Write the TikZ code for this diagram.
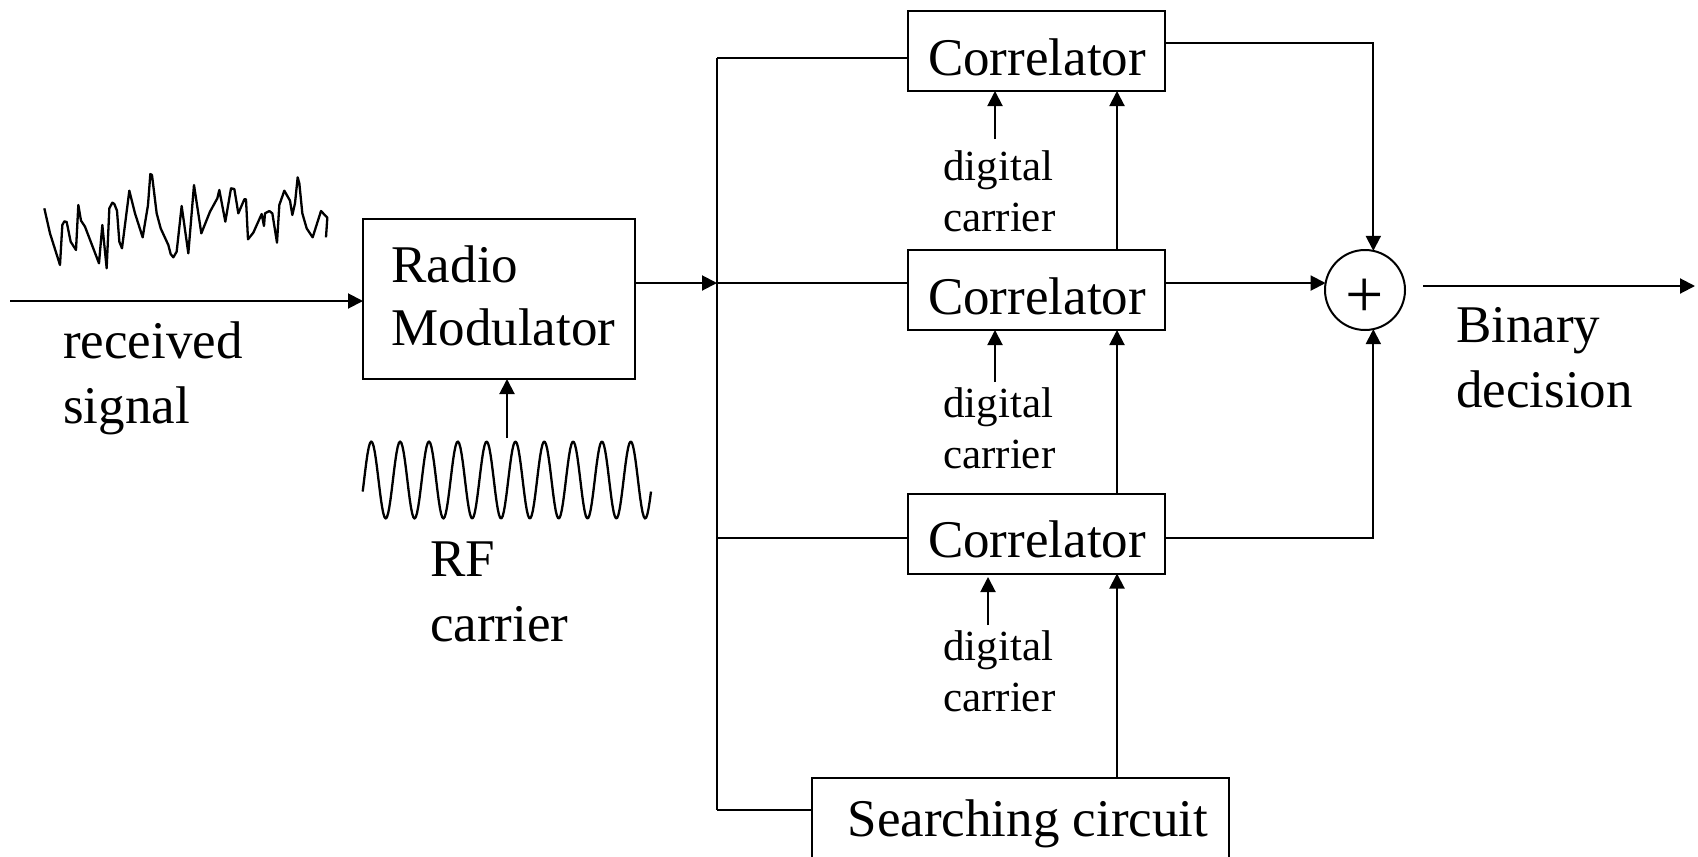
\documentclass[tikz,border=0pt]{standalone}
\usepackage{fontspec}
\setmainfont{Liberation Serif}
\usetikzlibrary{arrows.meta}
\tikzset{
  wire/.style={line width=2pt},
  arrowwire/.style={wire,-{Triangle[length=15pt,width=15pt]}},
  wave/.style={line width=2.3pt,line join=round},
  blockbox/.style={draw,line width=2pt,inner sep=0pt,outer sep=0pt,font=\fontsize{53}{63}\selectfont},
  corr/.style={blockbox,minimum width=257pt,minimum height=80pt,text height=50pt,text depth=2pt},
  biglabel/.style={anchor=north west,inner sep=0pt,align=left,font=\fontsize{53}{65}\selectfont},
  smalllabel/.style={anchor=north west,inner sep=0pt,align=left,font=\fontsize{43}{51}\selectfont}
}
\begin{document}
\begin{tikzpicture}[x=1pt,y=-1pt]
\path[use as bounding box,clip] (0,0) rectangle (1698,857);
\fill[white] (0,0) rectangle (1698,857);
% blocks
\node[blockbox,minimum width=272pt,minimum height=160pt,align=left] (radio) at (499,299) {\hspace*{9pt}Radio\\\hspace*{9pt}Modulator\rule[-6pt]{0pt}{6pt}};
\node[corr] (c1) at (1036.5,51) {\hspace*{1pt}Correlator};
\node[corr] (c2) at (1036.5,290) {\hspace*{1pt}Correlator};
\node[corr] (c3) at (1036.5,533.5) {\hspace*{1pt}Correlator};
\node[blockbox,minimum width=417pt,minimum height=92pt] (search) at (1020.5,824) {\hspace*{15pt}Searching circuit};
\node[draw,circle,line width=2pt,minimum size=80pt,inner sep=0pt,outer sep=0pt,font=\fontsize{68}{68}\selectfont] (sum) at (1365,290) {\raisebox{-27pt}[0pt][0pt]{+}};
% labels
\node[biglabel] (lrecv) at (63,322) {received\\signal};
\node[biglabel] (lrf) at (430,542) {RF\\carrier};
\node[biglabel] (lbin) at (1456,307.5) {Binary\\decision};
\node[smalllabel] (ld1) at (943,150.5) {digital\\carrier};
\node[smalllabel] (ld2) at (943,387.5) {digital\\carrier};
\node[smalllabel] (ld3) at (943,630) {digital\\carrier};
% free ends and waypoints
\coordinate (inL) at (10,301);
\coordinate (radioIn) at (radio.west |- inL);
\coordinate (radioOut) at (635,283);
\coordinate (busC2) at (717,283);
\coordinate (busTop) at (717,58);
\coordinate (busC3) at (717,538);
\coordinate (busBot) at (717,810);
\coordinate (rfStart) at (507,438);
\coordinate (d1) at (995,139);
\coordinate (d2) at (995,382);
\coordinate (d3) at (988,625);
\coordinate (d3tip) at (988,577);
\coordinate (outL) at (1423,286);
\coordinate (outR) at (1695,286);
% connectors
\draw[arrowwire] (inL) -- (radioIn);
\draw[arrowwire] (radioOut) -- (busC2);
\draw[wire] (busTop) -- (busBot);
\draw[wire] (busTop) -- (c1.west |- busTop);
\draw[wire] (busC2) -- (c2.west |- busC2);
\draw[wire] (busC3) -- (c3.west |- busC3);
\draw[wire] (busBot) -- (search.west |- busBot);
\draw[arrowwire] (rfStart) -- (rfStart |- radio.south);
\draw[arrowwire] (d1) -- (d1 |- c1.south);
\draw[arrowwire] (d2) -- (d2 |- c2.south);
\draw[arrowwire] (d3) -- (d3tip);
\coordinate (vx) at (1117,0);
\draw[arrowwire] (vx |- c2.north) -- (vx |- c1.south);
\draw[arrowwire] (vx |- c3.north) -- (vx |- c2.south);
\draw[arrowwire] (vx |- search.north) -- (vx |- c3.south);
\coordinate (c1y) at (0,43);
\coordinate (c3y) at (0,538);
\draw[arrowwire] (c1.east |- c1y) -| (sum.78);
\draw[arrowwire] (c2.east |- sum.170) -- (sum.170);
\draw[arrowwire] (c3.east |- c3y) -| (sum.-78);
\draw[arrowwire] (outL) -- (outR);
% received signal trace
\begin{scope}[x=0.33333pt,y=-0.33333pt,shift={(0,450)}]
\draw[wave] plot coordinates {(133,175)(150,250)(180,345)(187,225)(193,214)(200,216)(212,275)(228,300)(235,165)(243,212)(255,230)(297,340)(307,225)(320,355)(328,175)(337,158)(343,162)(351,182)(358,275)(366,295)(388,122)(405,190)(428,262)(444,165)(451,72)(456,75)(470,190)(482,235)(505,285)(512,312)(520,322)(530,305)(545,168)(565,310)(582,105)(604,250)(630,185)(652,145)(658,120)(676,215)(693,115)(703,117)(715,190)(733,148)(738,148)(744,268)(760,248)(785,192)(792,228)(795,190)(808,183)(817,190)(831,278)(838,165)(853,122)(870,152)(877,195)(885,160)(893,82)(898,100)(907,190)(920,235)(938,262)(963,183)(982,203)(978,262)};
\end{scope}
% RF carrier
\draw[wave] plot[domain=362.7:651,samples=240] (\x,{480-38.5*sin((\x-364.1)/28.83*360)});
\end{tikzpicture}
\end{document}
